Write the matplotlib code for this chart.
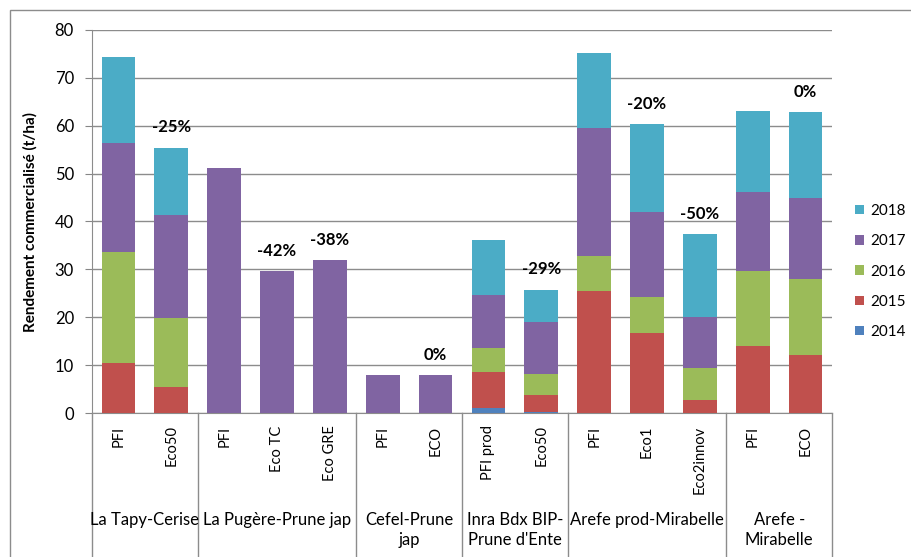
import matplotlib
matplotlib.use("Agg")
import matplotlib.pyplot as plt
import numpy as np
from matplotlib.patches import Rectangle
import matplotlib.transforms as mtransforms

plt.rcParams['font.family'] = ['Lato', 'DejaVu Sans']

bars = ["PFI", "Eco50", "PFI", "Eco TC", "Eco GRE", "PFI", "ECO", "PFI prod", "Eco50",
        "PFI", "Eco1", "Eco2innov", "PFI", "ECO"]
groups = ["La Tapy-Cerise", "La Pugère-Prune jap", "Cefel-Prune\njap",
          "Inra Bdx BIP-\nPrune d'Ente", "Arefe prod-Mirabelle", "Arefe -\nMirabelle"]
group_sizes = [2, 3, 2, 2, 3, 2]
years = ["2014", "2015", "2016", "2017", "2018"]
v2014 = [0, 0, 0, 0, 0, 0, 0, 1.0, 0.3, 0, 0, 0, 0, 0]
v2015 = [10.4, 5.4, 0, 0, 0, 0, 0, 7.6, 3.5, 25.4, 16.7, 2.7, 14.0, 12.1]
v2016 = [23.3, 14.4, 0, 0, 0, 0, 0, 5.0, 4.4, 7.3, 7.5, 6.7, 15.6, 15.8]
v2017 = [22.8, 21.6, 51.2, 29.6, 31.9, 7.9, 7.9, 11.0, 10.8, 26.9, 17.8, 10.7, 16.5, 17.0]
v2018 = [17.9, 14.0, 0, 0, 0, 0, 0, 11.5, 6.7, 15.7, 18.3, 17.2, 17.0, 17.9]
annotations = ["", "-25%", "", "-42%", "-38%", "", "0%", "", "-29%", "", "-20%", "-50%", "", "0%"]

colors = ["#4F81BD", "#C0504D", "#9BBB59", "#8064A2", "#4BACC6"]
series = [v2014, v2015, v2016, v2017, v2018]

W, H = 912, 557
fig = plt.figure(figsize=(W / 100, H / 100), dpi=100)
ax = fig.add_axes([92 / W, (H - 413) / H, (832 - 92) / W, (413 - 30) / H])

x = np.arange(len(bars))
bottom = np.zeros(len(bars))
handles = []
for yr, vals, c in zip(years, series, colors):
    vals = np.array(vals, dtype=float)
    h = ax.bar(x, vals, 0.64, bottom=bottom, color=c, label=yr, zorder=3)
    handles.append(h)
    bottom += vals

for xi, (lab, tot) in enumerate(zip(annotations, bottom)):
    if lab:
        ax.annotate(lab, (xi, tot), xytext=(0, 9), textcoords='offset points',
                    ha='center', va='bottom', fontsize=12, fontweight='bold', color='black')

ax.set_xlim(-0.5, len(bars) - 0.5)
ax.set_ylim(0, 80)
ax.set_yticks(np.arange(0, 81, 10))
ax.tick_params(axis='y', labelsize=12, length=5, color='#868686', pad=8)
ax.yaxis.grid(True, color='#8c8c8c', linewidth=1, zorder=0)
ax.set_axisbelow(True)
for s in ['top', 'right']:
    ax.spines[s].set_visible(False)
for s in ['left', 'bottom']:
    ax.spines[s].set_color('#8c8c8c')

ax.set_xticks(x)
ax.set_xticklabels(bars, rotation=90, fontsize=10.5)
ax.tick_params(axis='x', length=0, pad=9)

ax.set_ylabel("Rendement commercialisé (t/ha)", fontsize=11, fontweight='bold', labelpad=12)

trans = mtransforms.blended_transform_factory(ax.transData, ax.transAxes)
ybot = -(557 - 413) / 383
edges = np.concatenate([[0], np.cumsum(group_sizes)]) - 0.5
for e in edges:
    ax.plot([e, e], [0, ybot], transform=trans, color='#8c8c8c', lw=1, clip_on=False)
for g, a, b in zip(groups, edges[:-1], edges[1:]):
    ax.text((a + b) / 2, -(512 - 413) / 383, g, transform=trans, ha='center', va='top',
            fontsize=12, linespacing=1.3)

leg = fig.legend(handles[::-1], years[::-1], loc='upper left',
                 bbox_to_anchor=(849 / W, 1 - 198 / H), frameon=False, fontsize=11,
                 handlelength=0.55, handleheight=0.55, labelspacing=1.06, handletextpad=0.45,
                 borderpad=0.2, borderaxespad=0.2)

fig.patches.append(Rectangle((10 / W, -0.05), 1.2, 1 - 10 / H + 0.05, transform=fig.transFigure,
                             fill=False, edgecolor='#8c8c8c', lw=1))

fig.savefig("out.png", dpi=100)
